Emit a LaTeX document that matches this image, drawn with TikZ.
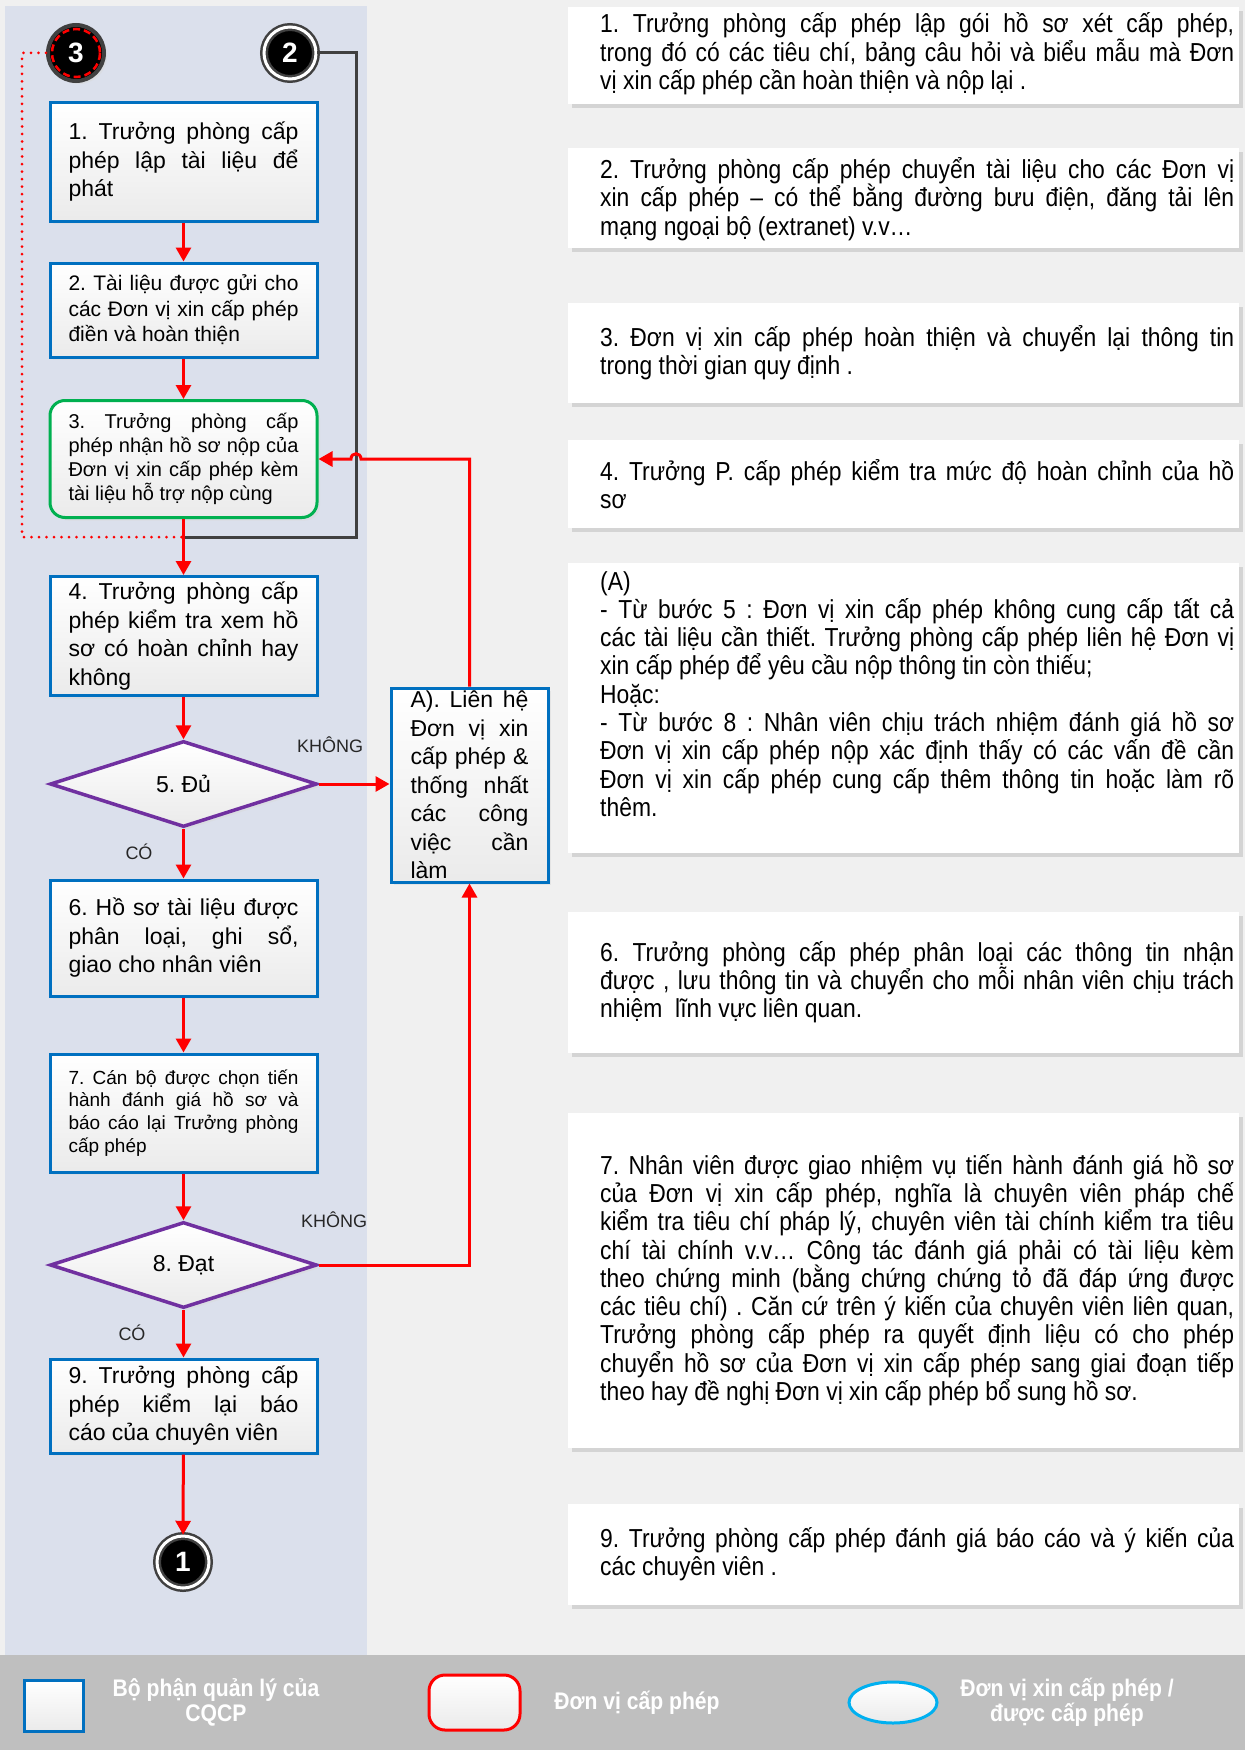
\documentclass[tikz,border=0pt]{standalone}
\usepackage{fontspec}
\setmainfont{Liberation Sans}
\newfontfamily\narrowfont{Liberation Sans}[FakeStretch=0.88]
\usepackage{tikz}
\usetikzlibrary{shapes.geometric,arrows.meta,shadows,calc}
\frenchspacing

\definecolor{paper}{HTML}{F0F0F0}
\definecolor{laneblue}{HTML}{DBE0EC}
\definecolor{bandgray}{HTML}{BFBFBF}
\definecolor{boxblue}{HTML}{0070C0}
\definecolor{okgreen}{HTML}{00B050}
\definecolor{decpurple}{HTML}{7030A0}
\definecolor{flowred}{HTML}{FF0000}
\definecolor{ringgray}{HTML}{404040}
\definecolor{legcyan}{HTML}{00B0F0}
\definecolor{shadegray}{HTML}{D4D4D4}

\newcommand{\fbig}{\fontsize{23}{28.5}\selectfont}
\newcommand{\fmid}{\fontsize{21}{25.5}\selectfont}
\newcommand{\fsmall}{\fontsize{20}{24}\selectfont}
\newcommand{\fmini}{\fontsize{19}{22.7}\selectfont}

\begin{document}
\begin{tikzpicture}[x=1pt,y=-1pt]
\tikzstyle{every node}+=[inner sep=0pt]
\tikzstyle{stepbox}=[rectangle, draw=boxblue, line width=3pt, top color=white, bottom color=black!8, text width=230pt, minimum width=267pt, align=justify, font=\fbig, drop shadow={shadow xshift=3pt, shadow yshift=-3pt, fill=black!15}]
\tikzstyle{decision}=[diamond, aspect=3, draw=decpurple, line width=3.5pt, top color=white, bottom color=black!8, minimum width=267pt, minimum height=86pt, font=\fbig, drop shadow={shadow xshift=3pt, shadow yshift=-3pt, fill=black!15}]
\tikzstyle{endpoint}=[circle, fill=black, draw=ringgray, double=white, double distance=3pt, line width=2.5pt, minimum size=52pt, text=white, font=\bfseries\fontsize{28}{28}\selectfont, drop shadow={shadow xshift=3pt, shadow yshift=-3pt, fill=black!15}]
\tikzstyle{flow}=[draw=flowred, line width=3pt, -{Triangle[length=14pt,width=15pt]}]
\tikzstyle{greyline}=[draw=ringgray, line width=3pt]
\tikzstyle{dotline}=[draw=flowred, line width=3pt, line cap=round, dash pattern=on 0pt off 7.5pt]
\tikzstyle{lbl}=[font=\fontsize{18}{18}\selectfont, text=black!85]
\tikzstyle{desc}=[anchor=west, text width=634pt, align=justify, font=\narrowfont\fontsize{26}{28.3}\selectfont]
\tikzstyle{legtext}=[align=center, text=white, font=\narrowfont\bfseries\fontsize{24}{25}\selectfont]
\useasboundingbox (0,0) rectangle (1245,1750);
% backgrounds
\fill[paper] (0,0) rectangle (1245,1655);
\fill[laneblue] (5,6) rectangle (367,1655);
\fill[bandgray] (0,1655) rectangle (1245,1750);
% connectors and steps
\node[endpoint, fill=black, draw=ringgray, double=none, line width=4pt, minimum size=56pt] (c3) at (76,53) {3};
\draw[flowred, line width=2.5pt, dash pattern=on 7pt off 4pt] (c3.center) circle (24);
\node[endpoint] (c2) at (290,53) {2};
\node[stepbox, minimum height=118pt] (b1) at (183.5,162) {1. Trưởng phòng cấp\linebreak phép lập tài liệu để\linebreak phát};
\node[stepbox, font=\fmid, minimum height=94pt] (b2) at (183.5,310) {2. Tài liệu được gửi cho\linebreak các Đơn vị xin cấp phép\linebreak điền và hoàn thiện};
\node[stepbox, font=\fsmall, draw=okgreen, rounded corners=15pt, minimum height=117pt] (b3) at (183.5,459) {3. Trưởng phòng cấp\linebreak phép nhận hồ sơ nộp của\linebreak Đơn vị xin cấp phép kèm\linebreak tài liệu hỗ trợ nộp cùng};
\node[stepbox, minimum height=119pt] (b4) at (183.5,636) {4. Trưởng phòng cấp\linebreak phép kiểm tra xem hồ\linebreak sơ có hoàn chỉnh hay\linebreak không};
\node[decision] (d5) at (183.5,784) {5. Đủ};
\node[stepbox, text width=118pt, minimum width=157pt, minimum height=194pt] (A) at (469.5,785) {A). Liên hệ\linebreak Đơn vị xin\linebreak cấp phép \&\linebreak thống nhất\linebreak các công\linebreak việc cần\linebreak làm};
\node[stepbox, minimum height=116pt] (b6) at (183.5,938) {6. Hồ sơ tài liệu được\linebreak phân loại, ghi sổ,\linebreak giao cho nhân viên};
\node[stepbox, font=\fmini, minimum height=118pt] (b7) at (183.5,1113) {7. Cán bộ được chọn tiến\linebreak hành đánh giá hồ sơ và\linebreak báo cáo lại Trưởng phòng\linebreak cấp phép};
\node[decision] (d8) at (183.5,1265) {8. Đạt};
\node[stepbox, minimum height=94pt] (b9) at (183.5,1406) {9. Trưởng phòng cấp\linebreak phép kiểm lại báo\linebreak cáo của chuyên viên};
\node[endpoint] (c1) at (183,1562) {1};
% return lines
\coordinate (gc) at (356,53);
\coordinate (dc) at (22,53);
\coordinate (mrg) at (183.5,537);
\draw[greyline] (c2) -- (gc) -- (gc |- mrg) -- (mrg);
\draw[dotline] (c3) -- (dc) -- (dc |- mrg) -- (mrg);
% flow arrows
\draw[flow] (b1) -- (b2);
\draw[flow] (b2) -- (b3);
\draw[flow] (b3) -- (b4);
\draw[flow] (b4) -- (d5);
\draw[flow] (d5) -- (b6);
\draw[flow] (d5.east) -- (A.west |- d5.east);
\draw[flow] (A.north) -- (A.north |- b3.east) -- ($(gc |- b3.east)+(5,0)$) .. controls +(0,-7) and +(0,-7) .. ($(gc |- b3.east)+(-5,0)$) -- (b3.east);
\draw[flow] (b6) -- (b7);
\draw[flow] (b7) -- (d8);
\draw[flow] (d8) -- (b9);
\draw[flow] (d8.east) -- (d8.east -| A.south) -- (A.south);
\draw[flow] (b9) -- (c1);
\node[lbl] (no5) at (330,745) {KHÔNG};
\node[lbl] (yes5) at (139,852) {CÓ};
\node[lbl] (no8) at (334,1220) {KHÔNG};
\node[lbl] (yes8) at (132,1333) {CÓ};
% descriptions
\fill[shadegray] (572,11) rectangle (1243,108);
\fill[white] (568,7) rectangle (1239,104);
\node[desc] (t1) at (600,54) {1. Trưởng phòng cấp phép lập gói hồ sơ xét cấp phép,\linebreak trong đó có các tiêu chí, bảng câu hỏi và biểu mẫu mà Đơn\linebreak vị xin cấp phép cần hoàn thiện và nộp lại .};
\fill[shadegray] (572,152) rectangle (1243,252);
\fill[white] (568,148) rectangle (1239,248);
\node[desc] (t2) at (600,199) {2. Trưởng phòng cấp phép chuyển tài liệu cho các Đơn vị\linebreak xin cấp phép – có thể bằng đường bưu điện, đăng tải lên\linebreak mạng ngoại bộ (extranet) v.v…};
\fill[shadegray] (572,307) rectangle (1243,407);
\fill[white] (568,303) rectangle (1239,403);
\node[desc] (t3) at (600,353) {3. Đơn vị xin cấp phép hoàn thiện và chuyển lại thông tin\linebreak trong thời gian quy định .};
\fill[shadegray] (572,444) rectangle (1243,532);
\fill[white] (568,440) rectangle (1239,528);
\node[desc] (t4) at (600,484) {4. Trưởng P. cấp phép kiểm tra mức độ hoàn chỉnh của hồ\linebreak sơ};
\fill[shadegray] (572,567) rectangle (1243,857);
\fill[white] (568,563) rectangle (1239,853);
\node[desc] (t5) at (600,694) {(A)\\- Từ bước 5 : Đơn vị xin cấp phép không cung cấp tất cả\linebreak các tài liệu cần thiết. Trưởng phòng cấp phép liên hệ Đơn vị\linebreak xin cấp phép để yêu cầu nộp thông tin còn thiếu;\\Hoặc:\\- Từ bước 8 : Nhân viên chịu trách nhiệm đánh giá hồ sơ\linebreak Đơn vị xin cấp phép nộp xác định thấy có các vấn đề cần\linebreak Đơn vị xin cấp phép cung cấp thêm thông tin hoặc làm rõ\linebreak thêm.};
\fill[shadegray] (572,916) rectangle (1243,1057);
\fill[white] (568,912) rectangle (1239,1053);
\node[desc] (t6) at (600,982) {6. Trưởng phòng cấp phép phân loại các thông tin nhận\linebreak được , lưu thông tin và chuyển cho mỗi nhân viên chịu trách\linebreak nhiệm~ lĩnh vực liên quan.};
\fill[shadegray] (572,1117) rectangle (1243,1452);
\fill[white] (568,1113) rectangle (1239,1448);
\node[desc] (t7) at (600,1280) {7. Nhân viên được giao nhiệm vụ tiến hành đánh giá hồ sơ\linebreak của Đơn vị xin cấp phép, nghĩa là chuyên viên pháp chế\linebreak kiểm tra tiêu chí pháp lý, chuyên viên tài chính kiểm tra tiêu\linebreak chí tài chính v.v… Công tác đánh giá phải có tài liệu kèm\linebreak theo chứng minh (bằng chứng chứng tỏ đã đáp ứng được\linebreak các tiêu chí) . Căn cứ trên ý kiến của chuyên viên liên quan,\linebreak Trưởng phòng cấp phép ra quyết định liệu có cho phép\linebreak chuyển hồ sơ của Đơn vị xin cấp phép sang giai đoạn tiếp\linebreak theo hay đề nghị Đơn vị xin cấp phép bổ sung hồ sơ.};
\fill[shadegray] (572,1508) rectangle (1243,1609);
\fill[white] (568,1504) rectangle (1239,1605);
\node[desc] (t9) at (600,1554) {9. Trưởng phòng cấp phép đánh giá báo cáo và ý kiến của\linebreak các chuyên viên .};
% legend
\node[rectangle, draw=boxblue, line width=3pt, top color=white, bottom color=black!8, minimum width=59pt, minimum height=51pt] (lg1) at (53.5,1705.5) {};
\node[legtext] (lt1) at (216,1702) {Bộ phận quản lý của\\CQCP};
\node[rectangle, rounded corners=16pt, draw=flowred, line width=3pt, top color=white, bottom color=black!8, minimum width=91pt, minimum height=55pt] (lg2) at (474.5,1702.5) {};
\node[legtext] (lt2) at (637,1703) {Đơn vị cấp phép};
\node[ellipse, draw=legcyan, line width=3pt, top color=white, bottom color=black!8, minimum width=88pt, minimum height=41pt] (lg3) at (893,1702.5) {};
\node[legtext] (lt3) at (1067,1702) {Đơn vị xin cấp phép /\\được cấp phép};
\end{tikzpicture}
\end{document}
